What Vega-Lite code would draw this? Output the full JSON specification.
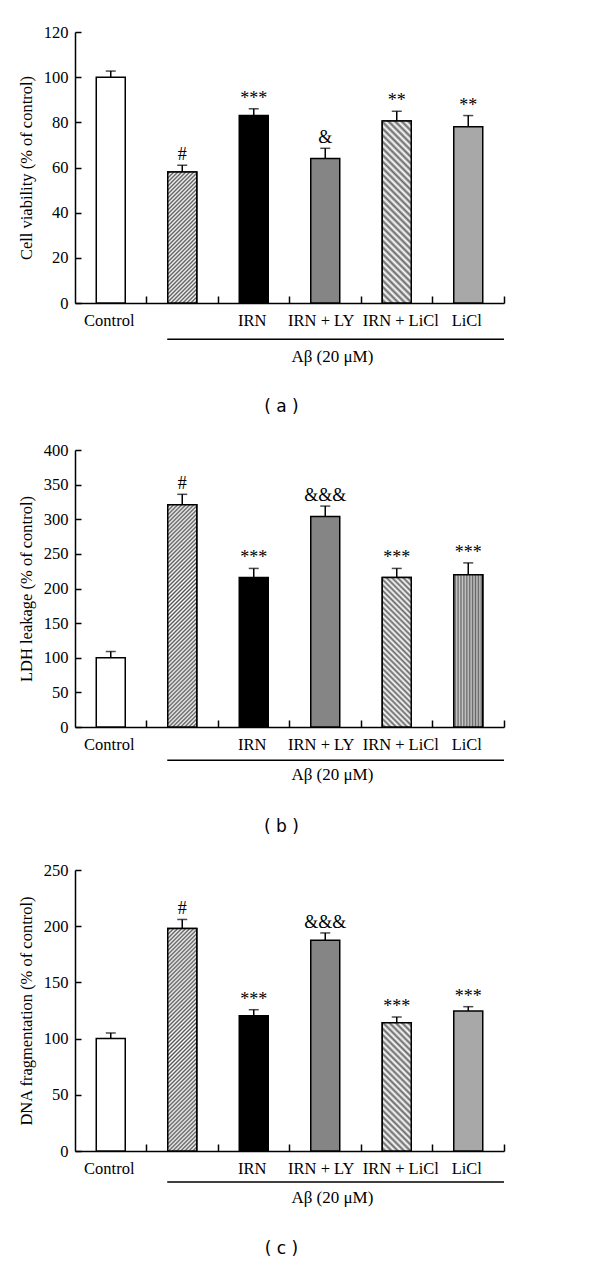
{
  "$schema": "https://vega.github.io/schema/vega-lite/v6.json",
  "background": "white",
  "padding": {"top": 24, "left": 18, "right": 5, "bottom": 5},
  "config": {
    "view": {"stroke": null},
    "axis": {
      "grid": false, "labelOverlap": false,
      "domainColor": "black", "domainWidth": 1.5,
      "tickColor": "black", "tickWidth": 1.5,
      "labelColor": "black", "labelFont": "Liberation Serif", "labelFontSize": 16.5,
      "titleColor": "black", "titleFont": "Liberation Serif", "titleFontSize": 16.5, "titleFontWeight": "normal"
    },
    "title": {"font": "DejaVu Sans", "fontSize": 17, "fontWeight": "normal", "color": "black"}
  },
  "datasets": {
    "bars": [
      {"panel": "a", "group": "Control", "value": 100, "upper": 102.7, "sig": ""},
      {"panel": "a", "group": "Aβ", "value": 58, "upper": 61, "sig": "#"},
      {"panel": "a", "group": "IRN", "value": 83, "upper": 86, "sig": "***"},
      {"panel": "a", "group": "IRN + LY", "value": 64, "upper": 68.5, "sig": "&"},
      {"panel": "a", "group": "IRN + LiCl", "value": 80.6, "upper": 84.9, "sig": "**"},
      {"panel": "a", "group": "LiCl", "value": 78, "upper": 83, "sig": "**"},
      {"panel": "b", "group": "Control", "value": 100, "upper": 109, "sig": ""},
      {"panel": "b", "group": "Aβ", "value": 321, "upper": 336, "sig": "#"},
      {"panel": "b", "group": "IRN", "value": 216, "upper": 229, "sig": "***"},
      {"panel": "b", "group": "IRN + LY", "value": 304, "upper": 319, "sig": "&&&"},
      {"panel": "b", "group": "IRN + LiCl", "value": 216, "upper": 229, "sig": "***"},
      {"panel": "b", "group": "LiCl", "value": 220, "upper": 237, "sig": "***"},
      {"panel": "c", "group": "Control", "value": 100, "upper": 105, "sig": ""},
      {"panel": "c", "group": "Aβ", "value": 198, "upper": 206, "sig": "#"},
      {"panel": "c", "group": "IRN", "value": 120.4, "upper": 125.7, "sig": "***"},
      {"panel": "c", "group": "IRN + LY", "value": 187.4, "upper": 194, "sig": "&&&"},
      {"panel": "c", "group": "IRN + LiCl", "value": 114.2, "upper": 119.2, "sig": "***"},
      {"panel": "c", "group": "LiCl", "value": 124.6, "upper": 128.4, "sig": "***"}
    ],
    "bracket": [
      {"start": "Aβ", "end": "LiCl", "mid": "IRN + LY", "label": "Aβ (20 μM)"}
    ]
  },
  "spacing": 26,
  "vconcat": [
    {
      "width": 429, "height": 271,
      "title": {"text": "( a )", "orient": "bottom", "offset": 34, "dx": -8},
      "resolve": {"axis": {"x": "independent"}},
      "layer": [
        {
          "data": {"name": "bars"},
          "transform": [{"filter": "datum.panel === 'a'"}],
          "mark": {"type": "bar", "width": 29, "stroke": "black", "strokeWidth": 1.5},
          "encoding": {
            "x": {"field": "group", "type": "nominal",
                  "scale": {"domain": ["Control", "Aβ", "IRN", "IRN + LY", "IRN + LiCl", "LiCl"], "paddingInner": 0, "paddingOuter": 0},
                  "axis": {"title": null, "ticks": false, "domain": false, "labelAngle": 0, "labelPadding": 9,
                           "labelOffset": {"condition": [{"test": "datum.value === 'IRN + LY'", "value": -4}, {"test": "datum.value === 'IRN + LiCl'", "value": 4}], "value": -1.5},
                           "labelExpr": "datum.value === 'Aβ' ? '' : datum.value"}},
            "y": {"field": "value", "type": "quantitative", "scale": {"domain": [0, 120], "nice": false},
                  "axis": {"title": "Cell viability (% of control)", "values": [0, 20, 40, 60, 80, 100, 120], "tickCount": 7, "labelOverlap": false, "tickSize": -6, "labelPadding": 13, "titlePadding": 9}},
            "fill": {"field": "group", "type": "nominal", "legend": null,
                     "scale": {"domain": ["Control", "Aβ", "IRN", "IRN + LY", "IRN + LiCl", "LiCl"],
                               "range": ["#ffffff", "#a8a8a8", "#000000", "#858585", "#c2c2c2", "#a8a8a8"]}}
          }
        },
        {
          "data": {"name": "bars"},
          "transform": [{"filter": "datum.panel === 'a' && datum.group === 'Aβ'"}],
          "mark": {"type": "bar", "width": 29, "stroke": "black", "strokeWidth": 1.5,
                   "fill": {"gradient": "linear", "x1": 0, "y1": 0, "x2": 0.2578, "y2": 1.1645, "stops": [
                     {"offset": 0, "color": "#fff"}, {"offset": 0.0125, "color": "#555"}, {"offset": 0.025, "color": "#fff"}, {"offset": 0.0375, "color": "#555"},
                     {"offset": 0.05, "color": "#fff"}, {"offset": 0.0625, "color": "#555"}, {"offset": 0.075, "color": "#fff"}, {"offset": 0.0875, "color": "#555"},
                     {"offset": 0.1, "color": "#fff"}, {"offset": 0.1125, "color": "#555"}, {"offset": 0.125, "color": "#fff"}, {"offset": 0.1375, "color": "#555"},
                     {"offset": 0.15, "color": "#fff"}, {"offset": 0.1625, "color": "#555"}, {"offset": 0.175, "color": "#fff"}, {"offset": 0.1875, "color": "#555"},
                     {"offset": 0.2, "color": "#fff"}, {"offset": 0.2125, "color": "#555"}, {"offset": 0.225, "color": "#fff"}, {"offset": 0.2375, "color": "#555"},
                     {"offset": 0.25, "color": "#fff"}, {"offset": 0.2625, "color": "#555"}, {"offset": 0.275, "color": "#fff"}, {"offset": 0.2875, "color": "#555"},
                     {"offset": 0.3, "color": "#fff"}, {"offset": 0.3125, "color": "#555"}, {"offset": 0.325, "color": "#fff"}, {"offset": 0.3375, "color": "#555"},
                     {"offset": 0.35, "color": "#fff"}, {"offset": 0.3625, "color": "#555"}, {"offset": 0.375, "color": "#fff"}, {"offset": 0.3875, "color": "#555"},
                     {"offset": 0.4, "color": "#fff"}, {"offset": 0.4125, "color": "#555"}, {"offset": 0.425, "color": "#fff"}, {"offset": 0.4375, "color": "#555"},
                     {"offset": 0.45, "color": "#fff"}, {"offset": 0.4625, "color": "#555"}, {"offset": 0.475, "color": "#fff"}, {"offset": 0.4875, "color": "#555"},
                     {"offset": 0.5, "color": "#fff"}, {"offset": 0.5125, "color": "#555"}, {"offset": 0.525, "color": "#fff"}, {"offset": 0.5375, "color": "#555"},
                     {"offset": 0.55, "color": "#fff"}, {"offset": 0.5625, "color": "#555"}, {"offset": 0.575, "color": "#fff"}, {"offset": 0.5875, "color": "#555"},
                     {"offset": 0.6, "color": "#fff"}, {"offset": 0.6125, "color": "#555"}, {"offset": 0.625, "color": "#fff"}, {"offset": 0.6375, "color": "#555"},
                     {"offset": 0.65, "color": "#fff"}, {"offset": 0.6625, "color": "#555"}, {"offset": 0.675, "color": "#fff"}, {"offset": 0.6875, "color": "#555"},
                     {"offset": 0.7, "color": "#fff"}, {"offset": 0.7125, "color": "#555"}, {"offset": 0.725, "color": "#fff"}, {"offset": 0.7375, "color": "#555"},
                     {"offset": 0.75, "color": "#fff"}, {"offset": 0.7625, "color": "#555"}, {"offset": 0.775, "color": "#fff"}, {"offset": 0.7875, "color": "#555"},
                     {"offset": 0.8, "color": "#fff"}, {"offset": 0.8125, "color": "#555"}, {"offset": 0.825, "color": "#fff"}, {"offset": 0.8375, "color": "#555"},
                     {"offset": 0.85, "color": "#fff"}, {"offset": 0.8625, "color": "#555"}, {"offset": 0.875, "color": "#fff"}, {"offset": 0.8875, "color": "#555"},
                     {"offset": 0.9, "color": "#fff"}, {"offset": 0.9125, "color": "#555"}, {"offset": 0.925, "color": "#fff"}, {"offset": 0.9375, "color": "#555"},
                     {"offset": 0.95, "color": "#fff"}, {"offset": 0.9625, "color": "#555"}, {"offset": 0.975, "color": "#fff"}, {"offset": 0.9875, "color": "#555"},
                     {"offset": 1, "color": "#fff"}]}},
          "encoding": {
            "x": {"field": "group", "type": "nominal", "axis": null},
            "y": {"field": "value", "type": "quantitative"}
          }
        },
        {
          "data": {"name": "bars"},
          "transform": [{"filter": "datum.panel === 'a' && datum.group === 'IRN + LiCl'"}],
          "mark": {"type": "bar", "width": 29, "stroke": "black", "strokeWidth": 1.5,
                   "fill": {"gradient": "linear", "x1": 0, "y1": 1, "x2": 0.1802, "y2": -0.1306, "stops": [
                     {"offset": 0, "color": "#fff"}, {"offset": 0.015625, "color": "#666"}, {"offset": 0.03125, "color": "#fff"}, {"offset": 0.046875, "color": "#666"},
                     {"offset": 0.0625, "color": "#fff"}, {"offset": 0.078125, "color": "#666"}, {"offset": 0.09375, "color": "#fff"}, {"offset": 0.109375, "color": "#666"},
                     {"offset": 0.125, "color": "#fff"}, {"offset": 0.140625, "color": "#666"}, {"offset": 0.15625, "color": "#fff"}, {"offset": 0.171875, "color": "#666"},
                     {"offset": 0.1875, "color": "#fff"}, {"offset": 0.203125, "color": "#666"}, {"offset": 0.21875, "color": "#fff"}, {"offset": 0.234375, "color": "#666"},
                     {"offset": 0.25, "color": "#fff"}, {"offset": 0.265625, "color": "#666"}, {"offset": 0.28125, "color": "#fff"}, {"offset": 0.296875, "color": "#666"},
                     {"offset": 0.3125, "color": "#fff"}, {"offset": 0.328125, "color": "#666"}, {"offset": 0.34375, "color": "#fff"}, {"offset": 0.359375, "color": "#666"},
                     {"offset": 0.375, "color": "#fff"}, {"offset": 0.390625, "color": "#666"}, {"offset": 0.40625, "color": "#fff"}, {"offset": 0.421875, "color": "#666"},
                     {"offset": 0.4375, "color": "#fff"}, {"offset": 0.453125, "color": "#666"}, {"offset": 0.46875, "color": "#fff"}, {"offset": 0.484375, "color": "#666"},
                     {"offset": 0.5, "color": "#fff"}, {"offset": 0.515625, "color": "#666"}, {"offset": 0.53125, "color": "#fff"}, {"offset": 0.546875, "color": "#666"},
                     {"offset": 0.5625, "color": "#fff"}, {"offset": 0.578125, "color": "#666"}, {"offset": 0.59375, "color": "#fff"}, {"offset": 0.609375, "color": "#666"},
                     {"offset": 0.625, "color": "#fff"}, {"offset": 0.640625, "color": "#666"}, {"offset": 0.65625, "color": "#fff"}, {"offset": 0.671875, "color": "#666"},
                     {"offset": 0.6875, "color": "#fff"}, {"offset": 0.703125, "color": "#666"}, {"offset": 0.71875, "color": "#fff"}, {"offset": 0.734375, "color": "#666"},
                     {"offset": 0.75, "color": "#fff"}, {"offset": 0.765625, "color": "#666"}, {"offset": 0.78125, "color": "#fff"}, {"offset": 0.796875, "color": "#666"},
                     {"offset": 0.8125, "color": "#fff"}, {"offset": 0.828125, "color": "#666"}, {"offset": 0.84375, "color": "#fff"}, {"offset": 0.859375, "color": "#666"},
                     {"offset": 0.875, "color": "#fff"}, {"offset": 0.890625, "color": "#666"}, {"offset": 0.90625, "color": "#fff"}, {"offset": 0.921875, "color": "#666"},
                     {"offset": 0.9375, "color": "#fff"}, {"offset": 0.953125, "color": "#666"}, {"offset": 0.96875, "color": "#fff"}, {"offset": 0.984375, "color": "#666"},
                     {"offset": 1, "color": "#fff"}]}},
          "encoding": {
            "x": {"field": "group", "type": "nominal", "axis": null},
            "y": {"field": "value", "type": "quantitative"}
          }
        },
        {
          "data": {"name": "bars"},
          "transform": [{"filter": "datum.panel === 'a'"}],
          "mark": {"type": "rule", "color": "black", "strokeWidth": 1.5},
          "encoding": {
            "x": {"field": "group", "type": "nominal",
                  "axis": {"title": null, "labels": false, "bandPosition": 1, "tickSize": -7, "orient": "bottom"}},
            "y": {"field": "value", "type": "quantitative"},
            "y2": {"field": "upper"}
          }
        },
        {
          "data": {"name": "bars"},
          "transform": [{"filter": "datum.panel === 'a'"}],
          "mark": {"type": "tick", "color": "black", "thickness": 1.5, "size": 10},
          "encoding": {
            "x": {"field": "group", "type": "nominal", "axis": null},
            "y": {"field": "upper", "type": "quantitative"}
          }
        },
        {
          "data": {"name": "bars"},
          "transform": [{"filter": "datum.panel === 'a'"}],
          "mark": {"type": "text", "baseline": "bottom", "dy": -1, "font": "Liberation Serif", "fontSize": 18, "color": "black"},
          "encoding": {
            "x": {"field": "group", "type": "nominal", "axis": null},
            "y": {"field": "upper", "type": "quantitative"},
            "text": {"field": "sig"}
          }
        },
        {
          "data": {"name": "bracket"},
          "mark": {"type": "rule", "color": "black", "strokeWidth": 1.5, "clip": false},
          "encoding": {
            "x": {"field": "start", "type": "nominal", "bandPosition": 0.29, "axis": null},
            "x2": {"field": "end", "bandPosition": 1},
            "y": {"datum": -16, "type": "quantitative"}
          }
        },
        {
          "data": {"name": "bracket"},
          "mark": {"type": "text", "baseline": "middle", "font": "Liberation Serif", "fontSize": 17, "color": "black", "clip": false},
          "encoding": {
            "x": {"field": "mid", "type": "nominal", "bandPosition": 0.6, "axis": null},
            "y": {"datum": -24, "type": "quantitative"},
            "text": {"field": "label"}
          }
        }
      ]
    },
    {
      "width": 429, "height": 277,
      "title": {"text": "( b )", "orient": "bottom", "offset": 36, "dx": -8},
      "resolve": {"axis": {"x": "independent"}},
      "layer": [
        {
          "data": {"name": "bars"},
          "transform": [{"filter": "datum.panel === 'b'"}],
          "mark": {"type": "bar", "width": 29, "stroke": "black", "strokeWidth": 1.5},
          "encoding": {
            "x": {"field": "group", "type": "nominal",
                  "scale": {"domain": ["Control", "Aβ", "IRN", "IRN + LY", "IRN + LiCl", "LiCl"], "paddingInner": 0, "paddingOuter": 0},
                  "axis": {"title": null, "ticks": false, "domain": false, "labelAngle": 0, "labelPadding": 9,
                           "labelOffset": {"condition": [{"test": "datum.value === 'IRN + LY'", "value": -4}, {"test": "datum.value === 'IRN + LiCl'", "value": 4}], "value": -1.5},
                           "labelExpr": "datum.value === 'Aβ' ? '' : datum.value"}},
            "y": {"field": "value", "type": "quantitative", "scale": {"domain": [0, 400], "nice": false},
                  "axis": {"title": "LDH leakage (% of control)", "values": [0, 50, 100, 150, 200, 250, 300, 350, 400], "tickCount": 9, "labelOverlap": false, "tickSize": -6, "labelPadding": 13, "titlePadding": 9}},
            "fill": {"field": "group", "type": "nominal", "legend": null,
                     "scale": {"domain": ["Control", "Aβ", "IRN", "IRN + LY", "IRN + LiCl", "LiCl"],
                               "range": ["#ffffff", "#a8a8a8", "#000000", "#858585", "#c2c2c2", "#999999"]}}
          }
        },
        {
          "data": {"name": "bars"},
          "transform": [{"filter": "datum.panel === 'b' && datum.group === 'Aβ'"}],
          "mark": {"type": "bar", "width": 29, "stroke": "black", "strokeWidth": 1.5,
                   "fill": {"gradient": "linear", "x1": 0, "y1": 0, "x2": 0.145, "y2": 1.1115, "stops": [
                     {"offset": 0, "color": "#fff"}, {"offset": 0.008, "color": "#555"}, {"offset": 0.016, "color": "#fff"}, {"offset": 0.024, "color": "#555"},
                     {"offset": 0.032, "color": "#fff"}, {"offset": 0.04, "color": "#555"}, {"offset": 0.048, "color": "#fff"}, {"offset": 0.056, "color": "#555"},
                     {"offset": 0.064, "color": "#fff"}, {"offset": 0.072, "color": "#555"}, {"offset": 0.08, "color": "#fff"}, {"offset": 0.088, "color": "#555"},
                     {"offset": 0.096, "color": "#fff"}, {"offset": 0.104, "color": "#555"}, {"offset": 0.112, "color": "#fff"}, {"offset": 0.12, "color": "#555"},
                     {"offset": 0.128, "color": "#fff"}, {"offset": 0.136, "color": "#555"}, {"offset": 0.144, "color": "#fff"}, {"offset": 0.152, "color": "#555"},
                     {"offset": 0.16, "color": "#fff"}, {"offset": 0.168, "color": "#555"}, {"offset": 0.176, "color": "#fff"}, {"offset": 0.184, "color": "#555"},
                     {"offset": 0.192, "color": "#fff"}, {"offset": 0.2, "color": "#555"}, {"offset": 0.208, "color": "#fff"}, {"offset": 0.216, "color": "#555"},
                     {"offset": 0.224, "color": "#fff"}, {"offset": 0.232, "color": "#555"}, {"offset": 0.24, "color": "#fff"}, {"offset": 0.248, "color": "#555"},
                     {"offset": 0.256, "color": "#fff"}, {"offset": 0.264, "color": "#555"}, {"offset": 0.272, "color": "#fff"}, {"offset": 0.28, "color": "#555"},
                     {"offset": 0.288, "color": "#fff"}, {"offset": 0.296, "color": "#555"}, {"offset": 0.304, "color": "#fff"}, {"offset": 0.312, "color": "#555"},
                     {"offset": 0.32, "color": "#fff"}, {"offset": 0.328, "color": "#555"}, {"offset": 0.336, "color": "#fff"}, {"offset": 0.344, "color": "#555"},
                     {"offset": 0.352, "color": "#fff"}, {"offset": 0.36, "color": "#555"}, {"offset": 0.368, "color": "#fff"}, {"offset": 0.376, "color": "#555"},
                     {"offset": 0.384, "color": "#fff"}, {"offset": 0.392, "color": "#555"}, {"offset": 0.4, "color": "#fff"}, {"offset": 0.408, "color": "#555"},
                     {"offset": 0.416, "color": "#fff"}, {"offset": 0.424, "color": "#555"}, {"offset": 0.432, "color": "#fff"}, {"offset": 0.44, "color": "#555"},
                     {"offset": 0.448, "color": "#fff"}, {"offset": 0.456, "color": "#555"}, {"offset": 0.464, "color": "#fff"}, {"offset": 0.472, "color": "#555"},
                     {"offset": 0.48, "color": "#fff"}, {"offset": 0.488, "color": "#555"}, {"offset": 0.496, "color": "#fff"}, {"offset": 0.504, "color": "#555"},
                     {"offset": 0.512, "color": "#fff"}, {"offset": 0.52, "color": "#555"}, {"offset": 0.528, "color": "#fff"}, {"offset": 0.536, "color": "#555"},
                     {"offset": 0.544, "color": "#fff"}, {"offset": 0.552, "color": "#555"}, {"offset": 0.56, "color": "#fff"}, {"offset": 0.568, "color": "#555"},
                     {"offset": 0.576, "color": "#fff"}, {"offset": 0.584, "color": "#555"}, {"offset": 0.592, "color": "#fff"}, {"offset": 0.6, "color": "#555"},
                     {"offset": 0.608, "color": "#fff"}, {"offset": 0.616, "color": "#555"}, {"offset": 0.624, "color": "#fff"}, {"offset": 0.632, "color": "#555"},
                     {"offset": 0.64, "color": "#fff"}, {"offset": 0.648, "color": "#555"}, {"offset": 0.656, "color": "#fff"}, {"offset": 0.664, "color": "#555"},
                     {"offset": 0.672, "color": "#fff"}, {"offset": 0.68, "color": "#555"}, {"offset": 0.688, "color": "#fff"}, {"offset": 0.696, "color": "#555"},
                     {"offset": 0.704, "color": "#fff"}, {"offset": 0.712, "color": "#555"}, {"offset": 0.72, "color": "#fff"}, {"offset": 0.728, "color": "#555"},
                     {"offset": 0.736, "color": "#fff"}, {"offset": 0.744, "color": "#555"}, {"offset": 0.752, "color": "#fff"}, {"offset": 0.76, "color": "#555"},
                     {"offset": 0.768, "color": "#fff"}, {"offset": 0.776, "color": "#555"}, {"offset": 0.784, "color": "#fff"}, {"offset": 0.792, "color": "#555"},
                     {"offset": 0.8, "color": "#fff"}, {"offset": 0.808, "color": "#555"}, {"offset": 0.816, "color": "#fff"}, {"offset": 0.824, "color": "#555"},
                     {"offset": 0.832, "color": "#fff"}, {"offset": 0.84, "color": "#555"}, {"offset": 0.848, "color": "#fff"}, {"offset": 0.856, "color": "#555"},
                     {"offset": 0.864, "color": "#fff"}, {"offset": 0.872, "color": "#555"}, {"offset": 0.88, "color": "#fff"}, {"offset": 0.888, "color": "#555"},
                     {"offset": 0.896, "color": "#fff"}, {"offset": 0.904, "color": "#555"}, {"offset": 0.912, "color": "#fff"}, {"offset": 0.92, "color": "#555"},
                     {"offset": 0.928, "color": "#fff"}, {"offset": 0.936, "color": "#555"}, {"offset": 0.944, "color": "#fff"}, {"offset": 0.952, "color": "#555"},
                     {"offset": 0.96, "color": "#fff"}, {"offset": 0.968, "color": "#555"}, {"offset": 0.976, "color": "#fff"}, {"offset": 0.984, "color": "#555"},
                     {"offset": 0.992, "color": "#fff"}, {"offset": 1, "color": "#555"}]}},
          "encoding": {
            "x": {"field": "group", "type": "nominal", "axis": null},
            "y": {"field": "value", "type": "quantitative"}
          }
        },
        {
          "data": {"name": "bars"},
          "transform": [{"filter": "datum.panel === 'b' && datum.group === 'IRN + LiCl'"}],
          "mark": {"type": "bar", "width": 29, "stroke": "black", "strokeWidth": 1.5,
                   "fill": {"gradient": "linear", "x1": 0, "y1": 1, "x2": 0.2231, "y2": -0.1506, "stops": [
                     {"offset": 0, "color": "#fff"}, {"offset": 0.015625, "color": "#666"}, {"offset": 0.03125, "color": "#fff"}, {"offset": 0.046875, "color": "#666"},
                     {"offset": 0.0625, "color": "#fff"}, {"offset": 0.078125, "color": "#666"}, {"offset": 0.09375, "color": "#fff"}, {"offset": 0.109375, "color": "#666"},
                     {"offset": 0.125, "color": "#fff"}, {"offset": 0.140625, "color": "#666"}, {"offset": 0.15625, "color": "#fff"}, {"offset": 0.171875, "color": "#666"},
                     {"offset": 0.1875, "color": "#fff"}, {"offset": 0.203125, "color": "#666"}, {"offset": 0.21875, "color": "#fff"}, {"offset": 0.234375, "color": "#666"},
                     {"offset": 0.25, "color": "#fff"}, {"offset": 0.265625, "color": "#666"}, {"offset": 0.28125, "color": "#fff"}, {"offset": 0.296875, "color": "#666"},
                     {"offset": 0.3125, "color": "#fff"}, {"offset": 0.328125, "color": "#666"}, {"offset": 0.34375, "color": "#fff"}, {"offset": 0.359375, "color": "#666"},
                     {"offset": 0.375, "color": "#fff"}, {"offset": 0.390625, "color": "#666"}, {"offset": 0.40625, "color": "#fff"}, {"offset": 0.421875, "color": "#666"},
                     {"offset": 0.4375, "color": "#fff"}, {"offset": 0.453125, "color": "#666"}, {"offset": 0.46875, "color": "#fff"}, {"offset": 0.484375, "color": "#666"},
                     {"offset": 0.5, "color": "#fff"}, {"offset": 0.515625, "color": "#666"}, {"offset": 0.53125, "color": "#fff"}, {"offset": 0.546875, "color": "#666"},
                     {"offset": 0.5625, "color": "#fff"}, {"offset": 0.578125, "color": "#666"}, {"offset": 0.59375, "color": "#fff"}, {"offset": 0.609375, "color": "#666"},
                     {"offset": 0.625, "color": "#fff"}, {"offset": 0.640625, "color": "#666"}, {"offset": 0.65625, "color": "#fff"}, {"offset": 0.671875, "color": "#666"},
                     {"offset": 0.6875, "color": "#fff"}, {"offset": 0.703125, "color": "#666"}, {"offset": 0.71875, "color": "#fff"}, {"offset": 0.734375, "color": "#666"},
                     {"offset": 0.75, "color": "#fff"}, {"offset": 0.765625, "color": "#666"}, {"offset": 0.78125, "color": "#fff"}, {"offset": 0.796875, "color": "#666"},
                     {"offset": 0.8125, "color": "#fff"}, {"offset": 0.828125, "color": "#666"}, {"offset": 0.84375, "color": "#fff"}, {"offset": 0.859375, "color": "#666"},
                     {"offset": 0.875, "color": "#fff"}, {"offset": 0.890625, "color": "#666"}, {"offset": 0.90625, "color": "#fff"}, {"offset": 0.921875, "color": "#666"},
                     {"offset": 0.9375, "color": "#fff"}, {"offset": 0.953125, "color": "#666"}, {"offset": 0.96875, "color": "#fff"}, {"offset": 0.984375, "color": "#666"},
                     {"offset": 1, "color": "#fff"}]}},
          "encoding": {
            "x": {"field": "group", "type": "nominal", "axis": null},
            "y": {"field": "value", "type": "quantitative"}
          }
        },
        {
          "data": {"name": "bars"},
          "transform": [{"filter": "datum.panel === 'b' && datum.group === 'LiCl'"}],
          "mark": {"type": "bar", "width": 29, "stroke": "black", "strokeWidth": 1.5,
                   "fill": {"gradient": "linear", "x1": 0, "y1": 0, "x2": 1, "y2": 0, "stops": [
                     {"offset": 0, "color": "#ccc"}, {"offset": 0.05, "color": "#666"}, {"offset": 0.1, "color": "#ccc"}, {"offset": 0.15, "color": "#666"},
                     {"offset": 0.2, "color": "#ccc"}, {"offset": 0.25, "color": "#666"}, {"offset": 0.3, "color": "#ccc"}, {"offset": 0.35, "color": "#666"},
                     {"offset": 0.4, "color": "#ccc"}, {"offset": 0.45, "color": "#666"}, {"offset": 0.5, "color": "#ccc"}, {"offset": 0.55, "color": "#666"},
                     {"offset": 0.6, "color": "#ccc"}, {"offset": 0.65, "color": "#666"}, {"offset": 0.7, "color": "#ccc"}, {"offset": 0.75, "color": "#666"},
                     {"offset": 0.8, "color": "#ccc"}, {"offset": 0.85, "color": "#666"}, {"offset": 0.9, "color": "#ccc"}, {"offset": 0.95, "color": "#666"},
                     {"offset": 1, "color": "#ccc"}]}},
          "encoding": {
            "x": {"field": "group", "type": "nominal", "axis": null},
            "y": {"field": "value", "type": "quantitative"}
          }
        },
        {
          "data": {"name": "bars"},
          "transform": [{"filter": "datum.panel === 'b'"}],
          "mark": {"type": "rule", "color": "black", "strokeWidth": 1.5},
          "encoding": {
            "x": {"field": "group", "type": "nominal",
                  "axis": {"title": null, "labels": false, "bandPosition": 1, "tickSize": -7, "orient": "bottom"}},
            "y": {"field": "value", "type": "quantitative"},
            "y2": {"field": "upper"}
          }
        },
        {
          "data": {"name": "bars"},
          "transform": [{"filter": "datum.panel === 'b'"}],
          "mark": {"type": "tick", "color": "black", "thickness": 1.5, "size": 10},
          "encoding": {
            "x": {"field": "group", "type": "nominal", "axis": null},
            "y": {"field": "upper", "type": "quantitative"}
          }
        },
        {
          "data": {"name": "bars"},
          "transform": [{"filter": "datum.panel === 'b'"}],
          "mark": {"type": "text", "baseline": "bottom", "dy": -1, "font": "Liberation Serif", "fontSize": 18, "color": "black"},
          "encoding": {
            "x": {"field": "group", "type": "nominal", "axis": null},
            "y": {"field": "upper", "type": "quantitative"},
            "text": {"field": "sig"}
          }
        },
        {
          "data": {"name": "bracket"},
          "mark": {"type": "rule", "color": "black", "strokeWidth": 1.5, "clip": false},
          "encoding": {
            "x": {"field": "start", "type": "nominal", "bandPosition": 0.29, "axis": null},
            "x2": {"field": "end", "bandPosition": 1},
            "y": {"datum": -48, "type": "quantitative"}
          }
        },
        {
          "data": {"name": "bracket"},
          "mark": {"type": "text", "baseline": "middle", "font": "Liberation Serif", "fontSize": 17, "color": "black", "clip": false},
          "encoding": {
            "x": {"field": "mid", "type": "nominal", "bandPosition": 0.6, "axis": null},
            "y": {"datum": -70, "type": "quantitative"},
            "text": {"field": "label"}
          }
        }
      ]
    },
    {
      "width": 429, "height": 281,
      "title": {"text": "( c )", "orient": "bottom", "offset": 35, "dx": -8},
      "resolve": {"axis": {"x": "independent"}},
      "layer": [
        {
          "data": {"name": "bars"},
          "transform": [{"filter": "datum.panel === 'c'"}],
          "mark": {"type": "bar", "width": 29, "stroke": "black", "strokeWidth": 1.5},
          "encoding": {
            "x": {"field": "group", "type": "nominal",
                  "scale": {"domain": ["Control", "Aβ", "IRN", "IRN + LY", "IRN + LiCl", "LiCl"], "paddingInner": 0, "paddingOuter": 0},
                  "axis": {"title": null, "ticks": false, "domain": false, "labelAngle": 0, "labelPadding": 9,
                           "labelOffset": {"condition": [{"test": "datum.value === 'IRN + LY'", "value": -4}, {"test": "datum.value === 'IRN + LiCl'", "value": 4}], "value": -1.5},
                           "labelExpr": "datum.value === 'Aβ' ? '' : datum.value"}},
            "y": {"field": "value", "type": "quantitative", "scale": {"domain": [0, 250], "nice": false},
                  "axis": {"title": "DNA fragmentation (% of control)", "values": [0, 50, 100, 150, 200, 250], "tickCount": 6, "labelOverlap": false, "tickSize": -6, "labelPadding": 13, "titlePadding": 9}},
            "fill": {"field": "group", "type": "nominal", "legend": null,
                     "scale": {"domain": ["Control", "Aβ", "IRN", "IRN + LY", "IRN + LiCl", "LiCl"],
                               "range": ["#ffffff", "#a8a8a8", "#000000", "#858585", "#c2c2c2", "#b4b4b4"]}}
          }
        },
        {
          "data": {"name": "bars"},
          "transform": [{"filter": "datum.panel === 'c' && datum.group === 'Aβ'"}],
          "mark": {"type": "bar", "width": 29, "stroke": "black", "strokeWidth": 1.5,
                   "fill": {"gradient": "linear", "x1": 0, "y1": 0, "x2": 0.1448, "y2": 1.1114, "stops": [
                     {"offset": 0, "color": "#fff"}, {"offset": 0.008, "color": "#555"}, {"offset": 0.016, "color": "#fff"}, {"offset": 0.024, "color": "#555"},
                     {"offset": 0.032, "color": "#fff"}, {"offset": 0.04, "color": "#555"}, {"offset": 0.048, "color": "#fff"}, {"offset": 0.056, "color": "#555"},
                     {"offset": 0.064, "color": "#fff"}, {"offset": 0.072, "color": "#555"}, {"offset": 0.08, "color": "#fff"}, {"offset": 0.088, "color": "#555"},
                     {"offset": 0.096, "color": "#fff"}, {"offset": 0.104, "color": "#555"}, {"offset": 0.112, "color": "#fff"}, {"offset": 0.12, "color": "#555"},
                     {"offset": 0.128, "color": "#fff"}, {"offset": 0.136, "color": "#555"}, {"offset": 0.144, "color": "#fff"}, {"offset": 0.152, "color": "#555"},
                     {"offset": 0.16, "color": "#fff"}, {"offset": 0.168, "color": "#555"}, {"offset": 0.176, "color": "#fff"}, {"offset": 0.184, "color": "#555"},
                     {"offset": 0.192, "color": "#fff"}, {"offset": 0.2, "color": "#555"}, {"offset": 0.208, "color": "#fff"}, {"offset": 0.216, "color": "#555"},
                     {"offset": 0.224, "color": "#fff"}, {"offset": 0.232, "color": "#555"}, {"offset": 0.24, "color": "#fff"}, {"offset": 0.248, "color": "#555"},
                     {"offset": 0.256, "color": "#fff"}, {"offset": 0.264, "color": "#555"}, {"offset": 0.272, "color": "#fff"}, {"offset": 0.28, "color": "#555"},
                     {"offset": 0.288, "color": "#fff"}, {"offset": 0.296, "color": "#555"}, {"offset": 0.304, "color": "#fff"}, {"offset": 0.312, "color": "#555"},
                     {"offset": 0.32, "color": "#fff"}, {"offset": 0.328, "color": "#555"}, {"offset": 0.336, "color": "#fff"}, {"offset": 0.344, "color": "#555"},
                     {"offset": 0.352, "color": "#fff"}, {"offset": 0.36, "color": "#555"}, {"offset": 0.368, "color": "#fff"}, {"offset": 0.376, "color": "#555"},
                     {"offset": 0.384, "color": "#fff"}, {"offset": 0.392, "color": "#555"}, {"offset": 0.4, "color": "#fff"}, {"offset": 0.408, "color": "#555"},
                     {"offset": 0.416, "color": "#fff"}, {"offset": 0.424, "color": "#555"}, {"offset": 0.432, "color": "#fff"}, {"offset": 0.44, "color": "#555"},
                     {"offset": 0.448, "color": "#fff"}, {"offset": 0.456, "color": "#555"}, {"offset": 0.464, "color": "#fff"}, {"offset": 0.472, "color": "#555"},
                     {"offset": 0.48, "color": "#fff"}, {"offset": 0.488, "color": "#555"}, {"offset": 0.496, "color": "#fff"}, {"offset": 0.504, "color": "#555"},
                     {"offset": 0.512, "color": "#fff"}, {"offset": 0.52, "color": "#555"}, {"offset": 0.528, "color": "#fff"}, {"offset": 0.536, "color": "#555"},
                     {"offset": 0.544, "color": "#fff"}, {"offset": 0.552, "color": "#555"}, {"offset": 0.56, "color": "#fff"}, {"offset": 0.568, "color": "#555"},
                     {"offset": 0.576, "color": "#fff"}, {"offset": 0.584, "color": "#555"}, {"offset": 0.592, "color": "#fff"}, {"offset": 0.6, "color": "#555"},
                     {"offset": 0.608, "color": "#fff"}, {"offset": 0.616, "color": "#555"}, {"offset": 0.624, "color": "#fff"}, {"offset": 0.632, "color": "#555"},
                     {"offset": 0.64, "color": "#fff"}, {"offset": 0.648, "color": "#555"}, {"offset": 0.656, "color": "#fff"}, {"offset": 0.664, "color": "#555"},
                     {"offset": 0.672, "color": "#fff"}, {"offset": 0.68, "color": "#555"}, {"offset": 0.688, "color": "#fff"}, {"offset": 0.696, "color": "#555"},
                     {"offset": 0.704, "color": "#fff"}, {"offset": 0.712, "color": "#555"}, {"offset": 0.72, "color": "#fff"}, {"offset": 0.728, "color": "#555"},
                     {"offset": 0.736, "color": "#fff"}, {"offset": 0.744, "color": "#555"}, {"offset": 0.752, "color": "#fff"}, {"offset": 0.76, "color": "#555"},
                     {"offset": 0.768, "color": "#fff"}, {"offset": 0.776, "color": "#555"}, {"offset": 0.784, "color": "#fff"}, {"offset": 0.792, "color": "#555"},
                     {"offset": 0.8, "color": "#fff"}, {"offset": 0.808, "color": "#555"}, {"offset": 0.816, "color": "#fff"}, {"offset": 0.824, "color": "#555"},
                     {"offset": 0.832, "color": "#fff"}, {"offset": 0.84, "color": "#555"}, {"offset": 0.848, "color": "#fff"}, {"offset": 0.856, "color": "#555"},
                     {"offset": 0.864, "color": "#fff"}, {"offset": 0.872, "color": "#555"}, {"offset": 0.88, "color": "#fff"}, {"offset": 0.888, "color": "#555"},
                     {"offset": 0.896, "color": "#fff"}, {"offset": 0.904, "color": "#555"}, {"offset": 0.912, "color": "#fff"}, {"offset": 0.92, "color": "#555"},
                     {"offset": 0.928, "color": "#fff"}, {"offset": 0.936, "color": "#555"}, {"offset": 0.944, "color": "#fff"}, {"offset": 0.952, "color": "#555"},
                     {"offset": 0.96, "color": "#fff"}, {"offset": 0.968, "color": "#555"}, {"offset": 0.976, "color": "#fff"}, {"offset": 0.984, "color": "#555"},
                     {"offset": 0.992, "color": "#fff"}, {"offset": 1, "color": "#555"}]}},
          "encoding": {
            "x": {"field": "group", "type": "nominal", "axis": null},
            "y": {"field": "value", "type": "quantitative"}
          }
        },
        {
          "data": {"name": "bars"},
          "transform": [{"filter": "datum.panel === 'c' && datum.group === 'IRN + LiCl'"}],
          "mark": {"type": "bar", "width": 29, "stroke": "black", "strokeWidth": 1.5,
                   "fill": {"gradient": "linear", "x1": 0, "y1": 1, "x2": 0.2635, "y2": -0.1664, "stops": [
                     {"offset": 0, "color": "#fff"}, {"offset": 0.02, "color": "#666"}, {"offset": 0.04, "color": "#fff"}, {"offset": 0.06, "color": "#666"},
                     {"offset": 0.08, "color": "#fff"}, {"offset": 0.1, "color": "#666"}, {"offset": 0.12, "color": "#fff"}, {"offset": 0.14, "color": "#666"},
                     {"offset": 0.16, "color": "#fff"}, {"offset": 0.18, "color": "#666"}, {"offset": 0.2, "color": "#fff"}, {"offset": 0.22, "color": "#666"},
                     {"offset": 0.24, "color": "#fff"}, {"offset": 0.26, "color": "#666"}, {"offset": 0.28, "color": "#fff"}, {"offset": 0.3, "color": "#666"},
                     {"offset": 0.32, "color": "#fff"}, {"offset": 0.34, "color": "#666"}, {"offset": 0.36, "color": "#fff"}, {"offset": 0.38, "color": "#666"},
                     {"offset": 0.4, "color": "#fff"}, {"offset": 0.42, "color": "#666"}, {"offset": 0.44, "color": "#fff"}, {"offset": 0.46, "color": "#666"},
                     {"offset": 0.48, "color": "#fff"}, {"offset": 0.5, "color": "#666"}, {"offset": 0.52, "color": "#fff"}, {"offset": 0.54, "color": "#666"},
                     {"offset": 0.56, "color": "#fff"}, {"offset": 0.58, "color": "#666"}, {"offset": 0.6, "color": "#fff"}, {"offset": 0.62, "color": "#666"},
                     {"offset": 0.64, "color": "#fff"}, {"offset": 0.66, "color": "#666"}, {"offset": 0.68, "color": "#fff"}, {"offset": 0.7, "color": "#666"},
                     {"offset": 0.72, "color": "#fff"}, {"offset": 0.74, "color": "#666"}, {"offset": 0.76, "color": "#fff"}, {"offset": 0.78, "color": "#666"},
                     {"offset": 0.8, "color": "#fff"}, {"offset": 0.82, "color": "#666"}, {"offset": 0.84, "color": "#fff"}, {"offset": 0.86, "color": "#666"},
                     {"offset": 0.88, "color": "#fff"}, {"offset": 0.9, "color": "#666"}, {"offset": 0.92, "color": "#fff"}, {"offset": 0.94, "color": "#666"},
                     {"offset": 0.96, "color": "#fff"}, {"offset": 0.98, "color": "#666"}, {"offset": 1, "color": "#fff"}]}},
          "encoding": {
            "x": {"field": "group", "type": "nominal", "axis": null},
            "y": {"field": "value", "type": "quantitative"}
          }
        },
        {
          "data": {"name": "bars"},
          "transform": [{"filter": "datum.panel === 'c'"}],
          "mark": {"type": "rule", "color": "black", "strokeWidth": 1.5},
          "encoding": {
            "x": {"field": "group", "type": "nominal",
                  "axis": {"title": null, "labels": false, "bandPosition": 1, "tickSize": -7, "orient": "bottom"}},
            "y": {"field": "value", "type": "quantitative"},
            "y2": {"field": "upper"}
          }
        },
        {
          "data": {"name": "bars"},
          "transform": [{"filter": "datum.panel === 'c'"}],
          "mark": {"type": "tick", "color": "black", "thickness": 1.5, "size": 10},
          "encoding": {
            "x": {"field": "group", "type": "nominal", "axis": null},
            "y": {"field": "upper", "type": "quantitative"}
          }
        },
        {
          "data": {"name": "bars"},
          "transform": [{"filter": "datum.panel === 'c'"}],
          "mark": {"type": "text", "baseline": "bottom", "dy": -1, "font": "Liberation Serif", "fontSize": 18, "color": "black"},
          "encoding": {
            "x": {"field": "group", "type": "nominal", "axis": null},
            "y": {"field": "upper", "type": "quantitative"},
            "text": {"field": "sig"}
          }
        },
        {
          "data": {"name": "bracket"},
          "mark": {"type": "rule", "color": "black", "strokeWidth": 1.5, "clip": false},
          "encoding": {
            "x": {"field": "start", "type": "nominal", "bandPosition": 0.29, "axis": null},
            "x2": {"field": "end", "bandPosition": 1},
            "y": {"datum": -27.6, "type": "quantitative"}
          }
        },
        {
          "data": {"name": "bracket"},
          "mark": {"type": "text", "baseline": "middle", "font": "Liberation Serif", "fontSize": 17, "color": "black", "clip": false},
          "encoding": {
            "x": {"field": "mid", "type": "nominal", "bandPosition": 0.6, "axis": null},
            "y": {"datum": -41.5, "type": "quantitative"},
            "text": {"field": "label"}
          }
        }
      ]
    }
  ]
}
